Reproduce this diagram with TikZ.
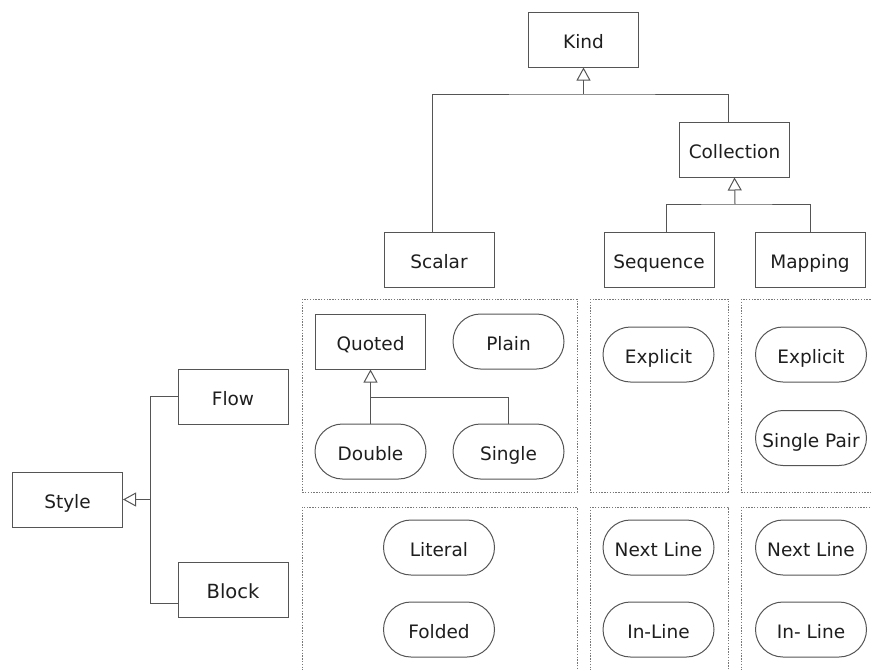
\documentclass[tikz,border=0pt]{standalone}
\usepackage{fontspec}
\setmainfont{DejaVu Sans}
\usetikzlibrary{arrows.meta}
\definecolor{linegray}{RGB}{85,85,85}
\definecolor{dotgray}{RGB}{120,120,120}
\definecolor{txt}{RGB}{30,30,30}
\tikzset{
  box/.style={draw=linegray, line width=1pt, fill=white, minimum width=110pt,
    minimum height=55pt, inner sep=0pt, text=txt, text height=18pt, text depth=0pt,
    font=\fontsize{18.5}{20}\selectfont},
  pill/.style={box, minimum width=111pt, rounded corners=27.5pt},
  link/.style={draw=linegray, line width=1pt},
  gen/.style={link, -{Triangle[open, width=14pt, length=13pt]}},
  frame/.style={draw=dotgray, line width=0.9pt, dash pattern=on 1.4pt off 1.4pt}
}
\begin{document}
\begin{tikzpicture}[x=1pt, y=-1pt]
\useasboundingbox (0,0) rectangle (871,670);

% dotted groups
\draw[frame] (302,299) rectangle (577,492);
\draw[frame] (302,507) rectangle (577,676);
\draw[frame] (590,299) rectangle (728,492);
\draw[frame] (590,507) rectangle (728,676);
\draw[frame] (741,299) rectangle (876,492);
\draw[frame] (741,507) rectangle (876,676);

% kind hierarchy
\node[box] (kind) at (583.5,39.5) {Kind};
\node[box] (collection) at (734.5,149.5) {Collection};
\node[box] (scalar) at (439,259.5) {Scalar};
\node[box] (sequence) at (659,259.5) {Sequence};
\node[box] (mapping) at (810,259.5) {Mapping};

\coordinate (kj) at (583.5,94);
\coordinate (cj) at (735,204);
\draw[gen] (kj) -- (kind.south);
\draw[link] ([xshift=-7pt]scalar.north) |- (kj) -| ([xshift=-6.5pt]collection.north);
\draw[gen] (cj) -- (collection.south);
\draw[link] ([xshift=7pt]sequence.north) |- (cj) -| (mapping.north);

% style hierarchy
\node[box] (style) at (67.5,499.5) {Style};
\node[box] (flow) at (233,396.5) {Flow};
\node[box, font=\fontsize{19.5}{21}\selectfont] (block) at (233,589.5) {Block};

\coordinate (sj) at (150,499.5);
\draw[gen] (sj) -- (style.east);
\draw[link] (flow.west) -| (sj);
\draw[link] ([yshift=-13.5pt]block.west) -| (sj);

% scalar styles
\node[box] (quoted) at (370.5,341.5) {Quoted};
\node[pill] (plain) at (508.5,341.5) {Plain};
\node[pill] (double) at (370.5,451.5) {Double};
\node[pill] (single) at (508.5,451.5) {Single};
\node[pill] (literal) at (439,547.5) {Literal};
\node[pill] (folded) at (439,629.5) {Folded};

\coordinate (qj) at (370.5,397);
\draw[gen] (qj) -- (quoted.south);
\draw[link] (double.north) -- (qj) -| (single.north);

% sequence styles
\node[pill] (seqexplicit) at (658.5,354.5) {Explicit};
\node[pill] (seqnext) at (658.5,547.5) {Next Line};
\node[pill] (seqinline) at (658.5,629.5) {In-Line};

% mapping styles
\node[pill] (mapexplicit) at (811,354.5) {Explicit};
\node[pill] (mappair) at (811,438) {Single Pair};
\node[pill] (mapnext) at (811,547.5) {Next Line};
\node[pill] (mapinline) at (811,629.5) {In- Line};
\end{tikzpicture}
\end{document}
